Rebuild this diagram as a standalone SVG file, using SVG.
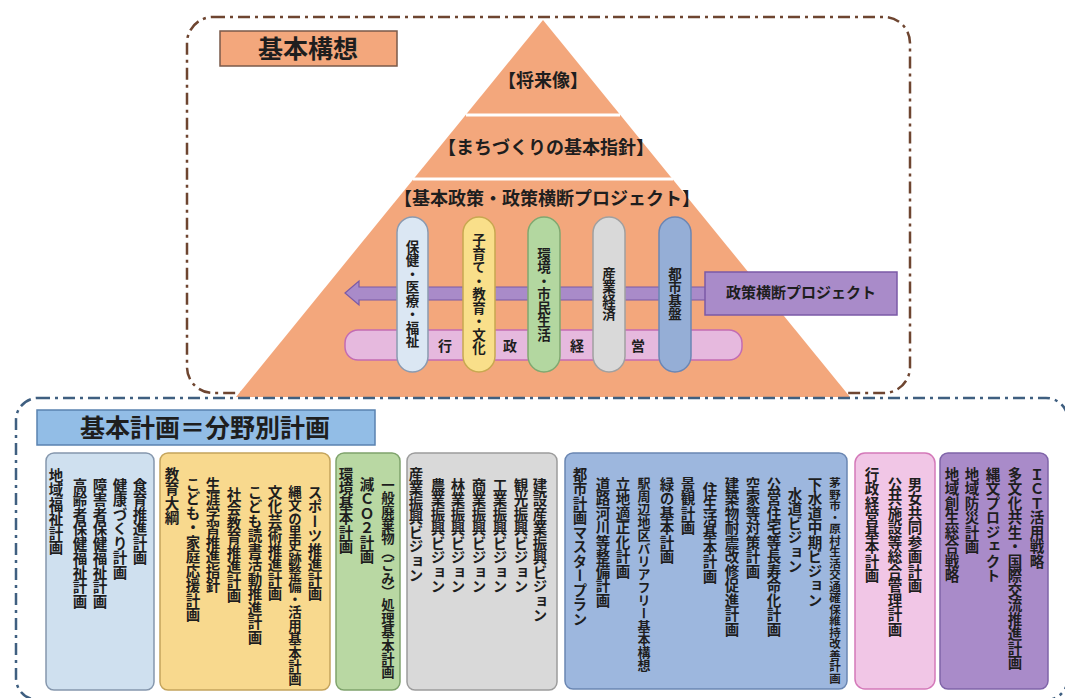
<svg xmlns="http://www.w3.org/2000/svg" width="1065" height="698" viewBox="0 0 1065 698">
<style>
text{font-family:"Noto Sans CJK JP","Noto Sans CJK SC",sans-serif;font-weight:bold;fill:#1e1e1e}
.v{writing-mode:vertical-rl;font-size:14.5px}
.vs{writing-mode:vertical-rl;font-size:13.4px}
.vx{writing-mode:vertical-rl;font-size:11.5px}
.p{writing-mode:vertical-rl;font-size:13.5px}
.h{font-size:18px}
.frameU{fill:none;stroke:#6e4530;stroke-width:2.5;stroke-dasharray:12 5 3 5}
.frameL{fill:none;stroke:#3f5f80;stroke-width:2.5;stroke-dasharray:12 5 3 5}
</style>
<rect width="1065" height="698" fill="#ffffff"/>
<rect class="frameU" x="187" y="17" width="723" height="376" rx="26"/>
<g id="kihon-koso-label">
<rect x="220" y="31" width="177" height="35" fill="#f3a77c" stroke="#7a5a4a" stroke-width="1.5"/>
<text x="308" y="58" text-anchor="middle" font-size="25">基本構想</text>
</g>
<g id="pyramid">
<polygon points="543,20 236,397 850,397" fill="#f3a77c"/>
<line x1="466" y1="115" x2="620" y2="115" stroke="#ffffff" stroke-width="3"/>
<line x1="413" y1="179" x2="673" y2="179" stroke="#ffffff" stroke-width="3"/>
<text class="h" x="543" y="87" text-anchor="middle">【将来像】</text>
<text class="h" x="546" y="154" text-anchor="middle">【まちづくりの基本指針】</text>
<text class="h" x="547" y="205" text-anchor="middle">【基本政策・政策横断プロジェクト】</text>
</g>
<g id="gyosei-keiei">
<rect x="345" y="330" width="397" height="30" rx="13" fill="#e6b9de" stroke="#c36cb3" stroke-width="1.5"/>
<text x="445" y="351" text-anchor="middle" font-size="14">行</text>
<text x="510" y="351" text-anchor="middle" font-size="14">政</text>
<text x="577" y="351" text-anchor="middle" font-size="14">経</text>
<text x="638" y="351" text-anchor="middle" font-size="14">営</text>
</g>
<g id="connectors">
<path d="M345,293 L359,281 L359,287 L706,287 L706,300 L359,300 L359,305 Z" fill="#a98bc9" stroke="#7b5aa6" stroke-width="1.2"/>
</g>
<g id="pillar-hoken">
<rect x="397" y="217" width="31" height="155" rx="15.5" fill="#dbe7f3" stroke="#8a9ab0" stroke-width="1.5"/>
<text class="p" x="412.5" y="294" text-anchor="middle">保健・医療・福祉</text>
</g>
<g id="pillar-kosodate">
<rect x="463" y="217" width="32" height="155" rx="16" fill="#f9df8a" stroke="#c8a850" stroke-width="1.5"/>
<text class="p" x="479" y="294" text-anchor="middle">子育て・教育・文化</text>
</g>
<g id="pillar-kankyo">
<rect x="528" y="217" width="32" height="155" rx="16" fill="#b3d7a0" stroke="#80a870" stroke-width="1.5"/>
<text class="p" x="544" y="294" text-anchor="middle">環境・市民生活</text>
</g>
<g id="pillar-sangyo">
<rect x="593" y="217" width="32" height="155" rx="16" fill="#d9d9d9" stroke="#a0a0a0" stroke-width="1.5"/>
<text class="p" x="609" y="294" text-anchor="middle">産業経済</text>
</g>
<g id="pillar-toshi">
<rect x="659" y="217" width="32" height="155" rx="16" fill="#95aed6" stroke="#6b86b4" stroke-width="1.5"/>
<text class="p" x="675" y="294" text-anchor="middle">都市基盤</text>
</g>
<g id="seisaku-oudan">
<rect x="705" y="272" width="192" height="43" fill="#a98bc9" stroke="#7b5aa6" stroke-width="1.5"/>
<text x="801" y="298" text-anchor="middle" font-size="15">政策横断プロジェクト</text>
</g>
<rect class="frameL" x="16" y="398" width="1052" height="302" rx="22"/>
<g id="kihon-keikaku-label">
<rect x="37" y="410" width="338" height="35" fill="#92bde6" stroke="#5a82b0" stroke-width="1.5"/>
<text x="205" y="437" text-anchor="middle" font-size="25">基本計画＝分野別計画</text>
</g>
<g id="box-hoken">
<rect x="46" y="453" width="108" height="237" rx="8" fill="#cfe0ef" stroke="#8597ad" stroke-width="1.5"/>
<text class="v" x="140" y="478">食育推進計画</text>
<text class="v" x="120" y="478">健康づくり計画</text>
<text class="v" x="100" y="478">障害者保健福祉計画</text>
<text class="v" x="80" y="478">高齢者保健福祉計画</text>
<text class="v" x="56" y="468">地域福祉計画</text>
</g>
<g id="box-kyoiku">
<rect x="160" y="453" width="170" height="237" rx="8" fill="#f8d98e" stroke="#c4a45c" stroke-width="1.5"/>
<text class="v" x="315" y="485">スポーツ推進計画</text>
<text class="vs" x="295" y="485">縄文の里史跡整備・活用基本計画</text>
<text class="v" x="275" y="485">文化芸術推進計画</text>
<text class="v" x="255" y="485">こども読書活動推進計画</text>
<text class="v" x="234" y="487">社会教育推進計画</text>
<text class="v" x="213" y="477">生涯学習推進指針</text>
<text class="v" x="193" y="477">こども・家庭応援計画</text>
<text class="v" x="172" y="467">教育大綱</text>
</g>
<g id="box-kankyo">
<rect x="336" y="453" width="64" height="237" rx="8" fill="#b9d8a3" stroke="#7fa36c" stroke-width="1.5"/>
<text class="vs" x="388" y="478">一般廃棄物（ごみ）処理基本計画</text>
<text class="v" x="367" y="477">減ＣＯ２計画</text>
<text class="v" x="346" y="467">環境基本計画</text>
</g>
<g id="box-sangyo">
<rect x="407" y="453" width="150" height="237" rx="8" fill="#d9d9d9" stroke="#9c9c9c" stroke-width="1.5"/>
<text class="v" x="540" y="478">建設産業振興ビジョン</text>
<text class="v" x="521" y="478">観光振興ビジョン</text>
<text class="v" x="500" y="478">工業振興ビジョン</text>
<text class="v" x="479" y="478">商業振興ビジョン</text>
<text class="v" x="458" y="478">林業振興ビジョン</text>
<text class="v" x="438" y="478">農業振興ビジョン</text>
<text class="v" x="416" y="467">産業振興ビジョン</text>
</g>
<g id="box-toshi">
<rect x="565" y="453" width="282" height="236" rx="8" fill="#9db7de" stroke="#6a86b2" stroke-width="1.5"/>
<text class="vx" x="835" y="477">茅野市・原村生活交通確保維持改善計画</text>
<text class="v" x="815" y="477">下水道中期ビジョン</text>
<text class="v" x="795" y="487">水道ビジョン</text>
<text class="v" x="774" y="477">公営住宅等長寿命化計画</text>
<text class="v" x="753" y="477">空家等対策計画</text>
<text class="v" x="732" y="477">建築物耐震改修促進計画</text>
<text class="v" x="710" y="482">住生活基本計画</text>
<text class="v" x="688" y="477">景観計画</text>
<text class="v" x="667" y="477">緑の基本計画</text>
<text class="vs" x="644" y="477" style="font-size:13px">駅周辺地区バリアフリー基本構想</text>
<text class="v" x="623" y="477">立地適正化計画</text>
<text class="v" x="603" y="477">道路河川等整備計画</text>
<text class="v" x="580" y="467">都市計画マスタープラン</text>
</g>
<g id="box-gyosei">
<rect x="855" y="453" width="80" height="236" rx="10" fill="#f1c6e6" stroke="#d479b9" stroke-width="1.5"/>
<text class="v" x="915" y="477">男女共同参画計画</text>
<text class="v" x="895" y="477">公共施設等総合管理計画</text>
<text class="v" x="872" y="467">行政経営基本計画</text>
</g>
<g id="box-oudan">
<rect x="940" y="453" width="108" height="236" rx="8" fill="#a98bc9" stroke="#7f64a8" stroke-width="1.5"/>
<text class="v" x="1037" y="467">ＩＣＴ活用戦略</text>
<text class="v" x="1015" y="467">多文化共生・国際交流推進計画</text>
<text class="v" x="993" y="467">縄文プロジェクト</text>
<text class="v" x="972" y="467">地域防災計画</text>
<text class="v" x="952" y="467">地域創生総合戦略</text>
</g>
</svg>
